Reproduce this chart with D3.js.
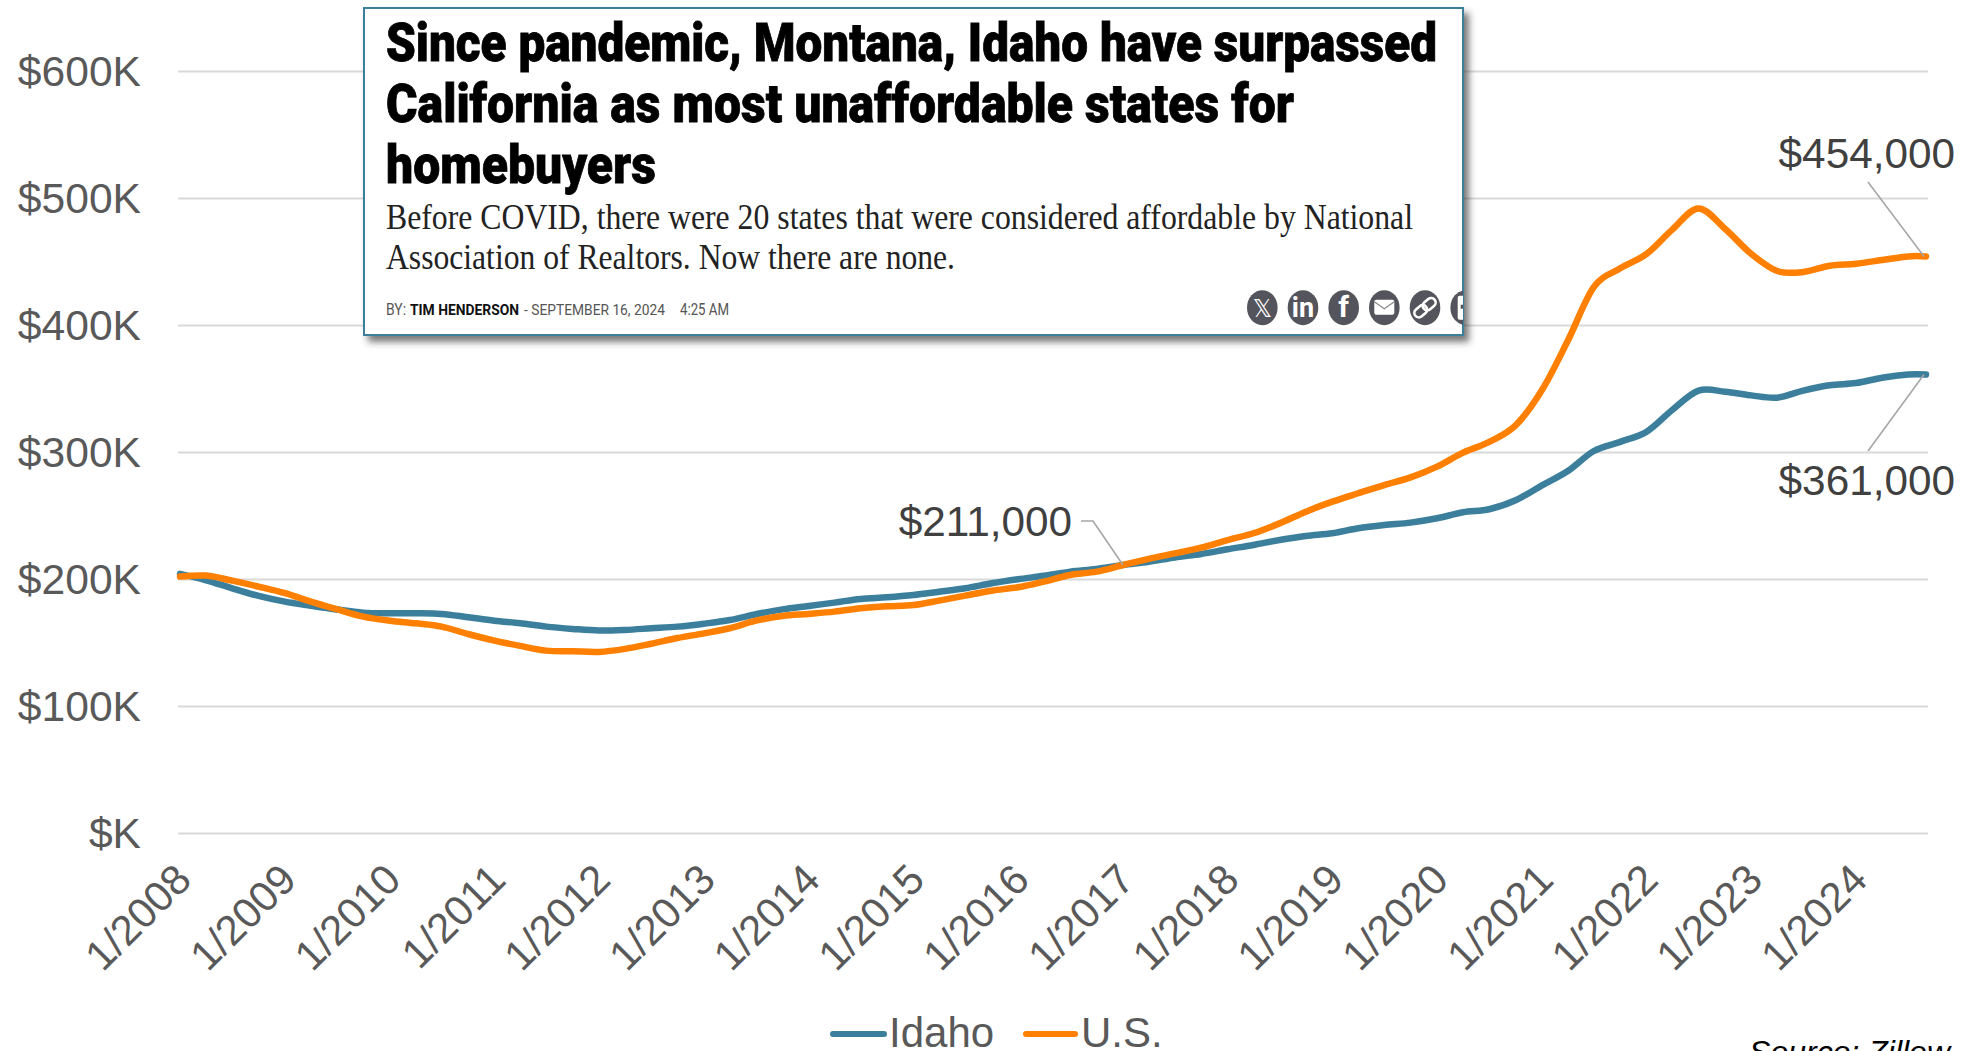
<!DOCTYPE html>
<html><head><meta charset="utf-8">
<script src="https://cdn.jsdelivr.net/npm/d3@7"></script>
<style>
html,body{margin:0;padding:0;background:#fff;overflow:hidden}
svg{display:block}
text{font-family:"Liberation Sans",Arial,sans-serif}
</style></head><body>
<svg id="c" width="1970" height="1051"></svg>
<script>
const months = ["2008-01","2008-04","2008-07","2008-10","2009-01","2009-04","2009-07","2009-10",
"2010-01","2010-04","2010-07","2010-10","2011-01","2011-04","2011-07","2011-10",
"2012-01","2012-04","2012-07","2012-10","2013-01","2013-04","2013-07","2013-10",
"2014-01","2014-04","2014-07","2014-10","2015-01","2015-04","2015-07","2015-10",
"2016-01","2016-04","2016-07","2016-10","2017-01","2017-04","2017-07","2017-10",
"2018-01","2018-04","2018-07","2018-10","2019-01","2019-04","2019-07","2019-10",
"2020-01","2020-04","2020-07","2020-10","2021-01","2021-04","2021-07","2021-10",
"2022-01","2022-04","2022-07","2022-10","2023-01","2023-04","2023-07","2023-10",
"2024-01","2024-04","2024-07","2024-09"];
const idaho = [204,199,192.7,186.7,182.2,179,176,173.5,173,173,172.5,169.9,167.2,165.1,162.5,160.7,
159.4,159.9,161.2,162.5,164.8,167.7,172.2,176.1,178.8,181.4,184.3,185.6,187.4,190,192.7,196.6,
199.8,202.5,205.8,207.9,211,213.6,217,219.7,223.4,226.8,230.7,233.9,236,239.9,242.5,244.4,
247.8,252.5,254.9,262,273.7,285,300.8,308,316,333.3,348.3,347.5,344.6,342.8,348.3,352.5,
354.3,358.5,361,361];
const us = [201.9,202.7,198.7,194,188.8,182.2,176.2,170.4,167.2,165.1,162.5,156.7,151.5,147.3,143.6,143.1,
142.6,145,149,153.5,157.2,161.2,167.2,170.9,172.5,174.3,176.9,178.5,179.5,183,186.9,190.8,
193.5,198,203.2,205.8,211,215.8,220.2,224.7,230.7,236,243.8,253,260.9,267.5,274,280,
288.5,299.5,308,321,348.8,387.6,430,444.6,456,475.3,491.8,475.8,455.9,442.5,441.7,446.7,
448.3,451.2,454,454];
const yTicks = [0,100,200,300,400,500,600];
const xTickYears = [2008,2009,2010,2011,2012,2013,2014,2015,2016,2017,2018,2019,2020,2021,2022,2023,2024];
const seriesNames = ["Idaho","U.S."];
const seriesColors = ["#3b7f9c","#ff8000"];
const headline = ["Since pandemic, Montana, Idaho have surpassed","California as most unaffordable states for","homebuyers"];
const subhead = ["Before COVID, there were 20 states that were considered affordable by National","Association of Realtors. Now there are none."];

const parse = d3.utcParse("%Y-%m");
const dates = months.map(parse);
const svg = d3.select("#c");
const x = d3.scaleUtc().domain([parse("2008-01"),parse("2024-09")]).range([180,1926]);
const y = d3.scaleLinear().domain([0,600]).range([833,71]);

// y axis + grid
const gy = svg.append("g").attr("transform","translate(178,0)")
  .call(d3.axisLeft(y).tickValues(yTicks).tickSize(-1750).tickPadding(37)
    .tickFormat(d=>"$"+(d||"")+"K"));
gy.select(".domain").remove();
gy.selectAll("line").attr("stroke","#d9d9d9").attr("stroke-width",2);
gy.selectAll("text").attr("fill","#595959").attr("font-size",42.6).attr("dy","0.33em")
  .style("font-family",'"Liberation Sans",Arial,sans-serif');

// x axis
const gx = svg.append("g").attr("transform","translate(0,833)")
  .call(d3.axisBottom(x).tickValues(xTickYears.map(v=>parse(v+"-01"))).tickSize(0)
    .tickFormat(d=>"1/"+d.getUTCFullYear()));
gx.select(".domain").remove();
gx.selectAll("text").attr("fill","#595959").attr("font-size",42)
  .attr("text-anchor","end").attr("y",0).attr("dy",0)
  .attr("transform","translate(13,49) rotate(-45)")
  .style("font-family",'"Liberation Sans",Arial,sans-serif');

// lines
const line = d3.line().x((d,i)=>x(dates[i])).y(d=>y(d)).curve(d3.curveCatmullRom.alpha(0));
[idaho,us].forEach((s,i)=>{
  svg.append("path").attr("d",line(s)).attr("fill","none").attr("stroke",seriesColors[i])
    .attr("stroke-width",6.5).attr("stroke-linecap","round").attr("stroke-linejoin","round");
});

// callouts
const leader = "#a6a6a6";
const endX = x(parse("2024-09"))-2;
const midX = x(parse("2017-01"));
svg.append("path").attr("fill","none").attr("stroke",leader).attr("stroke-width",1.6)
  .attr("d",`M1868,182L${endX},${y(454)}M1868,451L${endX},${y(361)}M1081,521L1093,521L${midX},${y(211)}`);
const callouts=[["$454,000",1955,168],["$361,000",1955,495],["$211,000",1072,536]];
svg.selectAll(".co").data(callouts).enter().append("text").attr("class","co")
  .attr("x",d=>d[1]).attr("y",d=>d[2]).attr("text-anchor","end").attr("font-size",42.3)
  .attr("fill","#404040").text(d=>d[0]);

// legend
const legendLines=[[833,884,889],[1026,1075,1081]];
legendLines.forEach((l,i)=>{
  svg.append("line").attr("x1",l[0]).attr("x2",l[1]).attr("y1",1034).attr("y2",1034)
    .attr("stroke",seriesColors[i]).attr("stroke-width",6).attr("stroke-linecap","round");
  svg.append("text").attr("x",l[2]).attr("y",1047).attr("font-size",42).attr("fill","#595959").text(seriesNames[i]);
});

// source
svg.append("text").attr("x",1950).attr("y",1063).attr("text-anchor","end").attr("font-size",32)
  .attr("font-style","italic").attr("fill","#000").text("Source: Zillow");

// headline card
const defs=svg.append("defs");
const f=defs.append("filter").attr("id","sh").attr("x","-5%").attr("y","-5%").attr("width","110%").attr("height","115%");
f.append("feDropShadow").attr("dx",5).attr("dy",6).attr("stdDeviation",3.5).attr("flood-color","#333").attr("flood-opacity",0.65);
defs.append("clipPath").attr("id","cardclip").append("rect").attr("x",364).attr("y",7).attr("width",1099).attr("height",328);
svg.append("rect").attr("x",364).attr("y",8).attr("width",1099).attr("height",327).attr("fill","#fff")
  .attr("stroke","#3b7f9c").attr("stroke-width",2).attr("filter","url(#sh)");
const headW=[1051,908,270], headBase=[61,122,183];
headline.forEach((t,i)=>{
  svg.append("text").attr("x",386).attr("y",headBase[i]).attr("textLength",headW[i]).attr("lengthAdjust","spacingAndGlyphs")
    .attr("font-size",53).attr("font-weight",900).attr("fill","#000").attr("stroke","#000").attr("stroke-width",0.8)
    .style("font-family","Roboto,sans-serif").text(t);
});
const subW=[1027,569], subBase=[229,269];
subhead.forEach((t,i)=>{
  svg.append("text").attr("x",386).attr("y",subBase[i]).attr("textLength",subW[i]).attr("lengthAdjust","spacingAndGlyphs")
    .attr("font-size",35).attr("fill","#222").style("font-family",'"Liberation Serif",serif').text(t);
});
const byline=[["BY:",386,20,400,"#555",16],["TIM HENDERSON",410,109,700,"#111",15],["- SEPTEMBER 16, 2024",524,141,400,"#555",14],["4:25 AM",680,49,400,"#555",16]];
byline.forEach(b=>{
  svg.append("text").attr("x",b[1]).attr("y",315).attr("textLength",b[2]).attr("lengthAdjust","spacingAndGlyphs")
    .attr("font-size",b[5]).attr("font-weight",b[3]).attr("fill",b[4]).style("font-family","Roboto,sans-serif").text(b[0]);
});

// share icons
const icons=svg.append("g").attr("clip-path","url(#cardclip)");
const iconX=[1262.3,1303,1343.7,1384.3,1425,1465.7], iconY=307.7;
iconX.forEach(cx=>icons.append("ellipse").attr("cx",cx).attr("cy",iconY).attr("rx",15.3).attr("ry",17.5).attr("fill","#54545c"));
[["𝕏",0,"DejaVu Sans",24,400],["in",1,"Roboto",27,700],["f",2,"Roboto",30,700]].forEach(g=>{
  icons.append("text").attr("x",iconX[g[1]]).attr("y",iconY+9.5).attr("text-anchor","middle")
    .attr("fill","#fff").attr("font-size",g[3]).attr("font-weight",g[4]).style("font-family",g[2]).text(g[0]);
});
icons.append("rect").attr("x",iconX[3]-10).attr("y",iconY-8).attr("width",20).attr("height",15).attr("rx",2).attr("fill","#fff");
icons.append("path").attr("d",`M${iconX[3]-10},${iconY-6}L${iconX[3]},${iconY+1}L${iconX[3]+10},${iconY-6}`).attr("fill","none").attr("stroke","#8a8a90").attr("stroke-width",1.3);
icons.append("g").attr("transform",`translate(${iconX[4]},${iconY}) rotate(-40)`).selectAll("rect").data([-5.5,5.5]).enter().append("rect")
  .attr("x",d=>d-7).attr("y",-4.5).attr("width",14).attr("height",9).attr("rx",4.5).attr("fill","none").attr("stroke","#fff").attr("stroke-width",2.6);
icons.append("rect").attr("x",iconX[5]-8).attr("y",iconY-12).attr("width",16).attr("height",24).attr("rx",2).attr("fill","#fff");
icons.append("rect").attr("x",iconX[5]-5).attr("y",iconY-3).attr("width",10).attr("height",4).attr("fill","#54545c");
</script>
</body></html>
